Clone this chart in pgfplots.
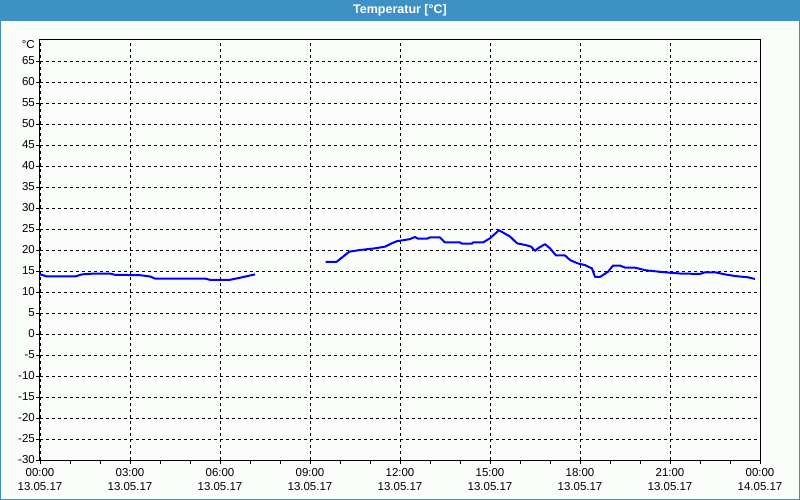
\documentclass[border=0pt]{standalone}
\usepackage{fontspec}
\setmainfont{Liberation Sans}
\usepackage{pgfplots}
\pgfplotsset{compat=1.18}
\definecolor{barblue}{RGB}{61,145,196}
\definecolor{bgc}{RGB}{251,253,251}
\begin{document}
\begin{tikzpicture}
\fill[bgc] (0bp,0bp) rectangle (800bp,500bp);
\fill[barblue] (0bp,479bp) rectangle (800bp,500bp);
\draw[barblue, line width=1bp] (0.5bp,0.5bp) rectangle (799.5bp,499.5bp);
\node[text=white, font=\bfseries\fontsize{12.5bp}{14bp}\selectfont] at (400bp,489.5bp) {Temperatur [°C]};
\begin{axis}[
  at={(40bp,40bp)}, anchor=south west,
  scale only axis, width=720bp, height=420bp,
  xmin=0, xmax=24, ymin=-30, ymax=70,
  xtick={0,3,...,24},
  xticklabels={{00:00\\13.05.17},{03:00\\13.05.17},{06:00\\13.05.17},{09:00\\13.05.17},{12:00\\13.05.17},{15:00\\13.05.17},{18:00\\13.05.17},{21:00\\13.05.17},{00:00\\14.05.17}},
  minor xtick={1,2,4,5,7,8,10,11,13,14,16,17,19,20,22,23},
  ytick={-30,-25,...,65},
  extra y ticks={70}, extra y tick labels={°C},
  extra y tick style={grid=none, tick style={draw=none}, yticklabel style={yshift=-5bp}},
  /pgf/number format/assume math mode=true,
  grid=major,
  major grid style={black, line width=0.8bp, dash pattern=on 3bp off 3bp},
  tick align=outside,
  xtick pos=bottom, ytick pos=left,
  major tick length=4bp, minor tick length=4bp,
  tick style={black, line width=0.8bp},
  axis line style={black, line width=1bp},
  ticklabel style={font=\fontsize{11.5bp}{14bp}\selectfont},
  xticklabel style={align=center, inner sep=0pt, yshift=-4bp},
  yticklabel style={inner sep=0pt, xshift=-1bp},
]
\addplot[blue, line width=2bp, line join=round] coordinates {
(0,14.2) (0.23,13.7) (1.17,13.7) (1.4,14.2) (1.83,14.4) (2.33,14.4) (2.5,14.1)
(3.33,14.0) (3.67,13.7) (3.83,13.2) (5.5,13.2) (5.67,12.9) (6.33,12.9)
(6.67,13.4) (7.17,14.2)
};
\addplot[blue, line width=2bp, line join=round] coordinates {
(9.52,17.2) (9.89,17.2) (10.31,19.6) (10.67,20.0) (11.17,20.4) (11.5,20.8)
(11.73,21.6) (11.9,22.1) (12.17,22.4) (12.33,22.6) (12.5,23.1) (12.6,22.7)
(12.9,22.7) (13.0,23.0) (13.33,23.0) (13.5,21.8) (14.0,21.8) (14.07,21.5)
(14.4,21.5) (14.43,21.8) (14.77,21.8) (15.0,22.8) (15.3,24.7) (15.67,23.2)
(15.9,21.6) (16.17,21.2) (16.37,20.8) (16.5,19.8) (16.6,20.4) (16.83,21.4)
(17.0,20.4) (17.2,18.7) (17.5,18.7) (17.67,17.6) (17.93,16.8) (18.17,16.4)
(18.4,15.6) (18.5,13.6) (18.67,13.6) (18.93,14.8) (19.1,16.3) (19.33,16.3)
(19.5,15.8) (19.83,15.8) (20.17,15.2) (20.67,14.8) (21.33,14.4) (22.0,14.3)
(22.17,14.7) (22.5,14.7) (22.83,14.2) (23.17,13.8) (23.6,13.5) (23.83,13.1)
};
\end{axis}
\end{tikzpicture}
\end{document}
